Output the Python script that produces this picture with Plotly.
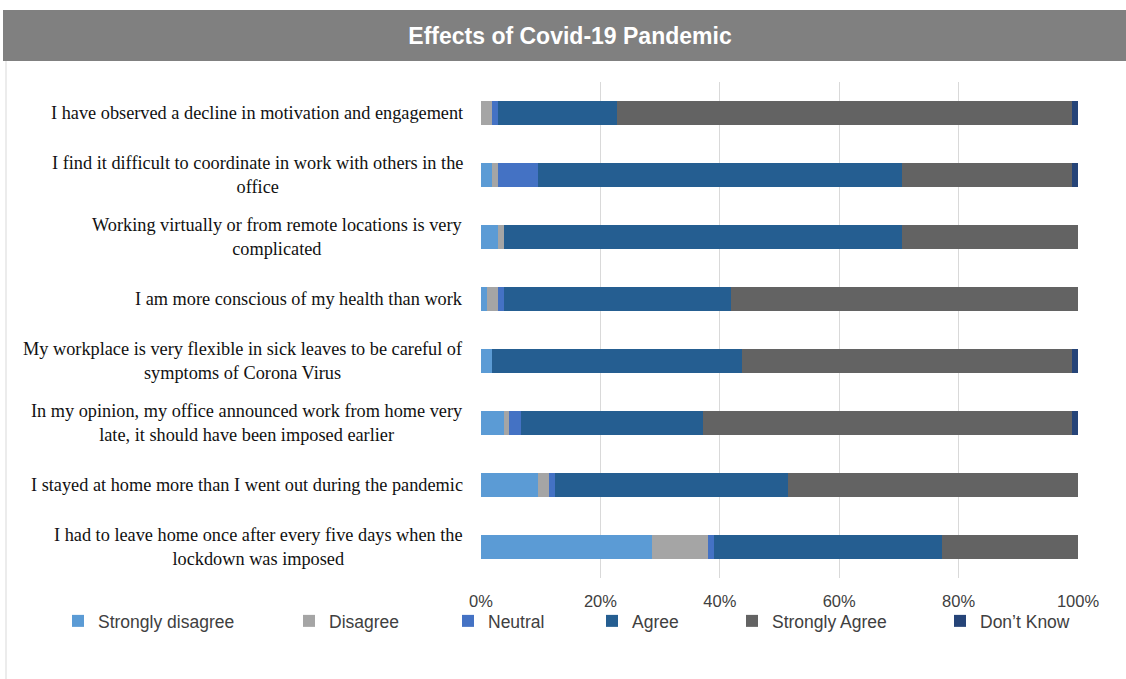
import plotly.graph_objects as go

# Survey statements, listed top to bottom
statements = [
    "I have observed a decline in motivation and engagement",
    "I find it difficult to coordinate in work with others in the<br>office",
    "Working virtually or from remote locations is very<br>complicated",
    "I am more conscious of my health than work",
    "My workplace is very flexible in sick leaves to be careful of<br>symptoms of Corona Virus",
    "In my opinion, my office announced work from home very<br>late, it should have been imposed earlier",
    "I stayed at home more than I went out during the pandemic",
    "I had to leave home once after every five days when the<br>lockdown was imposed",
]

# Share of respondents (%) per response option
strongly_disagree = [0.00, 1.90, 2.86, 0.95, 1.90, 3.81, 9.52, 28.57]
disagree          = [1.90, 0.95, 0.95, 1.90, 0.00, 0.95, 1.90, 9.52]
neutral           = [0.95, 6.67, 0.00, 0.95, 0.00, 1.90, 0.95, 0.95]
agree             = [20.00, 60.95, 66.67, 38.10, 41.90, 30.48, 39.05, 38.10]
strongly_agree    = [76.19, 28.57, 29.52, 58.10, 55.24, 61.90, 48.57, 22.86]
dont_know         = [0.95, 0.95, 0.00, 0.00, 0.95, 0.95, 0.00, 0.00]

series_names = ["Strongly disagree", "Disagree", "Neutral", "Agree", "Strongly Agree", "Don\u2019t Know"]
series_values = [strongly_disagree, disagree, neutral, agree, strongly_agree, dont_know]
series_colors = ["#5B9BD5", "#A5A5A5", "#4472C4", "#255E91", "#636363", "#264478"]

x_ticks = [0, 20, 40, 60, 80, 100]
x_tick_text = ["0%", "20%", "40%", "60%", "80%", "100%"]

W, H = 1126, 679
PLOT_L, PLOT_R, PLOT_T, PLOT_B = 481, 1078, 82, 578

def px_x(p):
    return (p - PLOT_L) / (PLOT_R - PLOT_L)

def px_y(p):
    return (PLOT_B - p) / (PLOT_B - PLOT_T)

# legend text start positions (pixels) for each series
legend_text_x = [94, 325, 484, 628, 768, 976]

fig = go.Figure()
for i, (name, vals, col) in enumerate(zip(series_names, series_values, series_colors)):
    lg = "legend" if i == 0 else f"legend{i + 1}"
    fig.add_trace(go.Bar(
        y=statements, x=vals, name=name, orientation="h",
        marker=dict(color=col, line=dict(width=0)),
        legend=lg, showlegend=True,
        hovertemplate="%{x:.1f}%<extra>" + name + "</extra>",
    ))

legend_common = dict(
    orientation="h", xref="container", yref="container",
    yanchor="middle", y=1 - 621 / H, xanchor="left",
    font=dict(family="Liberation Sans, Arial", size=17.5, color="#404040"),
    bgcolor="rgba(0,0,0,0)", itemwidth=30, tracegroupgap=0, visible=True,
)
legends = {}
for i, tx in enumerate(legend_text_x):
    key = "legend" if i == 0 else f"legend{i + 1}"
    legends[key] = dict(legend_common, x=(tx - 36) / W)

# statement labels, centred lines, right edge beside the axis
annotations = []
for s in statements:
    annotations.append(dict(
        x=px_x(465), xref="paper", y=s, yref="y", text=s, showarrow=False,
        xanchor="right", yanchor="middle", align="center",
        font=dict(family="Liberation Serif, Times New Roman", size=18.3, color="#111111"),
    ))

shapes = [
    # outer frame
    dict(type="rect", xref="paper", yref="paper",
         x0=px_x(6), x1=px_x(1130), y0=px_y(690), y1=px_y(60),
         line=dict(color="#D9D9D9", width=1), fillcolor="rgba(0,0,0,0)", layer="below"),
    # title band
    dict(type="rect", xref="paper", yref="paper",
         x0=px_x(3), x1=px_x(1130), y0=px_y(61), y1=px_y(10),
         line=dict(width=0), fillcolor="#808080", layer="below"),
]

fig.update_layout(
    width=W, height=H,
    barmode="stack", bargap=0.6,
    showlegend=True,
    margin=dict(l=PLOT_L, r=W - PLOT_R, t=PLOT_T, b=H - PLOT_B, pad=0, autoexpand=False),
    paper_bgcolor="white", plot_bgcolor="white",
    title=dict(text="<b>Effects of Covid-19 Pandemic</b>", xref="container", yref="container",
               x=570 / W, y=1 - 36 / H, xanchor="center", yanchor="middle",
               font=dict(family="Liberation Sans, Arial", size=23, color="white")),
    xaxis=dict(range=[0, 100], tickvals=x_ticks, ticktext=x_tick_text,
               showgrid=True, gridcolor="#D9D9D9", gridwidth=1, zeroline=False,
               showline=False, ticks="", ticklabelstandoff=11,
               tickfont=dict(family="Liberation Sans, Arial", size=16.5, color="#404040")),
    yaxis=dict(autorange="reversed", showticklabels=False, showgrid=False,
               zeroline=False, showline=False, ticks=""),
    annotations=annotations,
    shapes=shapes,
    **legends,
)

fig.write_html("out.html")
